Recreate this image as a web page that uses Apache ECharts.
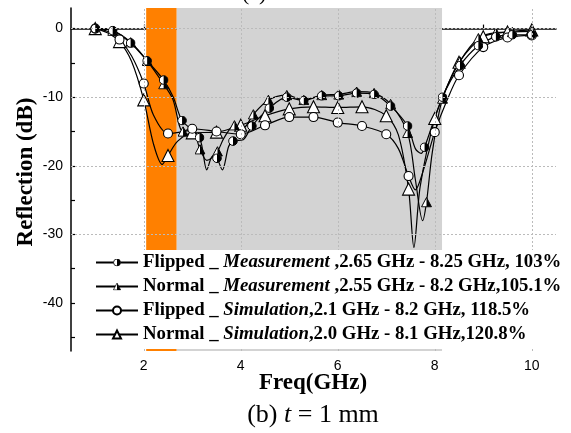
<!DOCTYPE html>
<html>
<head>
<meta charset="utf-8">
<script src="https://cdn.jsdelivr.net/npm/echarts@6/dist/echarts.min.js"></script>
<style>
  html, body { margin: 0; padding: 0; background: #fff; }
  #chart { width: 571px; height: 433px; }
</style>
</head>
<body>
<div id="chart"></div>
<script>
// series names (legend text)
const seriesNames = [
  'Flipped _ Measurement ,2.65 GHz - 8.25 GHz, 103%',
  'Normal _ Measurement ,2.55 GHz - 8.2 GHz,105.1%',
  'Flipped _ Simulation,2.1 GHz - 8.2 GHz, 118.5%',
  'Normal _ Simulation,2.0 GHz - 8.1 GHz,120.8%'
];

// Flipped measurement
const fmFreq = [1.0, 1.36, 1.73, 2.07, 2.41, 2.61, 2.79, 3.15, 3.3, 3.42, 3.51, 3.62, 3.75, 3.84, 4.05, 4.23, 4.59, 4.95, 5.3, 5.67, 6.02, 6.39, 6.75, 7.09, 7.44, 7.6, 7.72, 7.79, 8.16, 8.52, 8.9, 9.26, 9.6, 10.0];
const fmDb   = [0, -0.3, -2.1, -4.7, -7.5, -10.0, -13.4, -15.9, -20.6, -18.6, -18.9, -20.6, -17.2, -16.4, -16.2, -14.2, -11.6, -10.0, -10.5, -9.8, -9.8, -9.4, -9.6, -11.3, -14.2, -17.5, -18.2, -17.3, -10.0, -5.4, -2.5, -1.2, -0.9, -0.9];
const fmMark = [1, 1, 1, 1, 1, 0, 1, 1, 0, 0, 1, 0, 0, 1, 0, 1, 1, 1, 1, 1, 1, 1, 1, 1, 1, 0, 0, 1, 1, 1, 1, 1, 1, 1];

// Normal measurement
const nmFreq = [1.0, 1.36, 1.73, 2.07, 2.41, 2.6, 2.81, 3.0, 3.16, 3.3, 3.52, 3.65, 3.87, 4.05, 4.26, 4.57, 4.95, 5.3, 5.67, 6.02, 6.39, 6.75, 7.09, 7.44, 7.6, 7.75, 7.83, 7.95, 8.16, 8.52, 8.9, 9.26, 9.6, 10.0];
const nmDb   = [0, -0.3, -2.0, -4.7, -8.1, -10.3, -15.0, -14.8, -17.6, -19.2, -17.9, -16.0, -14.1, -14.5, -12.5, -10.4, -9.7, -10.4, -9.7, -9.6, -9.2, -9.4, -11.0, -15.2, -22.0, -28.0, -25.3, -18.0, -10.2, -4.8, -1.4, -0.6, -0.5, -0.4];
const nmMark = [0, 1, 1, 1, 1, 0, 1, 0, 1, 0, 1, 0, 1, 0, 1, 1, 1, 1, 1, 1, 1, 1, 1, 1, 0, 0, 1, 0, 1, 1, 1, 1, 1, 1];

// Flipped simulation
const fsFreq = [1.0, 1.25, 1.5, 1.75, 2.0, 2.2, 2.5, 2.75, 3.0, 3.5, 4.0, 4.5, 5.0, 5.5, 6.0, 6.5, 7.0, 7.25, 7.46, 7.6, 7.75, 8.0, 8.25, 8.5, 9.0, 9.5, 10.0];
const fsDb   = [0, -0.4, -1.6, -4.0, -8.0, -12.6, -15.3, -15.1, -14.6, -15.0, -15.4, -14.1, -12.9, -12.9, -13.7, -14.2, -15.4, -17.5, -21.5, -23.5, -21.0, -15.1, -10.5, -6.8, -2.7, -1.3, -1.0];
const fsMark = [1, 0, 1, 0, 1, 0, 1, 0, 1, 1, 1, 1, 1, 1, 1, 1, 1, 0, 1, 0, 0, 1, 0, 1, 1, 1, 1];

// Normal simulation
const nsFreq = [1.0, 1.25, 1.5, 1.75, 2.0, 2.2, 2.38, 2.5, 2.7, 3.0, 3.5, 4.0, 4.5, 5.0, 5.5, 6.0, 6.5, 7.0, 7.25, 7.46, 7.57, 7.7, 8.0, 8.25, 8.5, 9.0, 9.5, 10.0];
const nsDb   = [0, -0.6, -1.9, -4.8, -10.4, -16.8, -19.8, -18.5, -16.4, -15.2, -15.1, -14.1, -12.7, -11.7, -11.4, -11.5, -11.4, -12.7, -15.5, -23.4, -31.9, -23.0, -13.1, -8.5, -4.9, -1.2, -0.5, -0.2];
const nsMark = [1, 0, 1, 0, 1, 0, 0, 1, 0, 1, 1, 1, 1, 1, 1, 1, 1, 1, 0, 1, 0, 0, 1, 0, 1, 1, 1, 1];

// shaded bands (GHz)
const orangeBand = [2.05, 2.68];
const grayBand = [2.68, 8.15];

// axis ticks
const xTicks = [1, 2, 3, 4, 5, 6, 7, 8, 9, 10];
const xLabels = [2, 4, 6, 8, 10];
const yTicks = [-45, -40, -35, -30, -25, -20, -15, -10, -5, 0];
const yLabels = [-40, -30, -20, -10, 0];
const yGrid = [-30, -20, -10, 0];

const serif = 'Liberation Serif';

// half filled symbols
function svgSymbol(svg) {
  return 'image://data:image/svg+xml;charset=utf-8,' + encodeURIComponent(svg);
}
const halfCircle = svgSymbol("<svg xmlns='http://www.w3.org/2000/svg' width='20' height='20' viewBox='0 0 20 20'><circle cx='10' cy='10' r='8.6' fill='#fff' stroke='#000' stroke-width='2'/><path d='M10 1.4 A8.6 8.6 0 0 1 10 18.6 Z' fill='#000'/></svg>");
const halfTri = svgSymbol("<svg xmlns='http://www.w3.org/2000/svg' width='20' height='20' viewBox='0 0 20 20'><polygon points='10,1.5 19,18.5 1,18.5' fill='#fff' stroke='#000' stroke-width='1.8'/><polygon points='10,1.5 19,18.5 10,18.5' fill='#000'/></svg>");

function buildData(freq, db, mark) {
  return freq.map((f, i) => mark[i] ? [f, db[i]] : { value: [f, db[i]], symbol: 'none' });
}

function curve(name, freq, db, mark, symbol, size, fill) {
  return {
    name: name,
    type: 'line',
    smooth: 0.3,
    showAllSymbol: true,
    symbol: symbol,
    symbolSize: size,
    data: buildData(freq, db, mark),
    lineStyle: { color: '#000', width: 1.2 },
    itemStyle: { color: fill, borderColor: '#000', borderWidth: 1.1 },
    z: 3
  };
}

const chart = echarts.init(document.getElementById('chart'));

const option = {
  animation: false,
  backgroundColor: '#fff',
  grid: { left: 71, right: 15, top: 8, bottom: 82 },
  xAxis: {
    type: 'value',
    min: 0.5,
    max: 10.5,
    axisLine: { lineStyle: { color: '#000', width: 1.5 } },
    axisTick: { inside: true, length: 4, customValues: xTicks, lineStyle: { color: '#000', width: 1.2 } },
    axisLabel: { customValues: xLabels, color: '#000', fontSize: 14, fontFamily: 'Liberation Sans', margin: 8 },
    splitLine: { show: false }
  },
  yAxis: {
    type: 'value',
    min: -47,
    max: 3,
    axisLine: { show: true, lineStyle: { color: '#000', width: 1.5 } },
    axisTick: { show: true, inside: true, length: 4, customValues: yTicks, lineStyle: { color: '#000', width: 1.2 } },
    axisLabel: { customValues: yLabels, color: '#000', fontSize: 14, fontFamily: 'Liberation Sans', margin: 8 },
    splitLine: { show: false }
  },
  legend: {
    orient: 'vertical',
    left: 90,
    top: 250,
    z: 10,
    padding: [3, 8, 5, 5],
    backgroundColor: '#fff',
    itemWidth: 42,
    itemHeight: 10,
    itemGap: 5,
    data: seriesNames,
    formatter: function (name) {
      const m = name.match(/^(.*?_ )(Measurement|Simulation)(.*)$/);
      return '{b|' + m[1] + '}{i|' + m[2] + '}{b|' + m[3] + '}';
    },
    textStyle: {
      fontSize: 18.8,
      lineHeight: 19,
      rich: {
        b: { fontFamily: serif, fontWeight: 'bold', fontSize: 18.8, color: '#000', lineHeight: 19 },
        i: { fontFamily: serif, fontWeight: 'bold', fontStyle: 'italic', fontSize: 18.8, color: '#000', lineHeight: 19 }
      }
    }
  },
  graphic: [
    { type: 'text', left: 242, top: -17, style: { text: '(a)', font: '22px "Liberation Serif"', fill: '#000' } },
    {
      type: 'text', left: 232, top: 182,
      style: {
        text: '{h|h}{n| = 13 mm}',
        rich: {
          h: { fontFamily: serif, fontWeight: 'bold', fontStyle: 'italic', fontSize: 25, fill: '#000' },
          n: { fontFamily: serif, fontWeight: 'bold', fontSize: 21, fill: '#000' }
        }
      }
    },
    {
      type: 'text', left: 232, top: 218,
      style: {
        text: '{h|t}{n| = 1 mm}',
        rich: {
          h: { fontFamily: serif, fontWeight: 'bold', fontStyle: 'italic', fontSize: 25, fill: '#000' },
          n: { fontFamily: serif, fontWeight: 'bold', fontSize: 21, fill: '#000' }
        }
      }
    },
    {
      type: 'text', x: 26, y: 172, rotation: Math.PI / 2,
      style: { text: 'Reflection (dB)', font: 'bold 23px "Liberation Serif"', fill: '#000', align: 'center', verticalAlign: 'middle' }
    },
    {
      type: 'text', x: 313, y: 383,
      style: { text: 'Freq(GHz)', font: 'bold 23px "Liberation Serif"', fill: '#000', align: 'center', verticalAlign: 'middle' }
    },
    {
      type: 'text', x: 313, y: 415,
      style: {
        text: '{n|(b) }{i|t}{n| = 1 mm}',
        align: 'center', verticalAlign: 'middle',
        rich: {
          n: { fontFamily: serif, fontSize: 26, fill: '#000' },
          i: { fontFamily: serif, fontStyle: 'italic', fontSize: 26, fill: '#000' }
        }
      }
    }
  ],
  series: [
    // shaded bands
    {
      type: 'line',
      data: [],
      z: 1,
      silent: true,
      markArea: {
        silent: true,
        data: [
          [{ xAxis: orangeBand[0], itemStyle: { color: '#ff8000' } }, { xAxis: orangeBand[1] }],
          [{ xAxis: grayBand[0], itemStyle: { color: '#d3d3d3' } }, { xAxis: grayBand[1] }]
        ]
      }
    },
    // dotted grid lines
    {
      type: 'line',
      data: [],
      z: 2,
      silent: true,
      markLine: {
        silent: true,
        symbol: 'none',
        label: { show: false },
        lineStyle: { color: '#bbbbbb', type: [2, 2], width: 1 },
        data: xLabels.map(v => ({ xAxis: v })).concat(yGrid.map(v => ({ yAxis: v })))
      }
    },
    curve(seriesNames[3], nsFreq, nsDb, nsMark, 'triangle', 12, '#fff'),
    curve(seriesNames[2], fsFreq, fsDb, fsMark, 'circle', 9, '#fff'),
    curve(seriesNames[1], nmFreq, nmDb, nmMark, halfTri, 11, '#000'),
    curve(seriesNames[0], fmFreq, fmDb, fmMark, halfCircle, 10, '#000')
  ]
};

option && chart.setOption(option);
</script>
</body>
</html>
